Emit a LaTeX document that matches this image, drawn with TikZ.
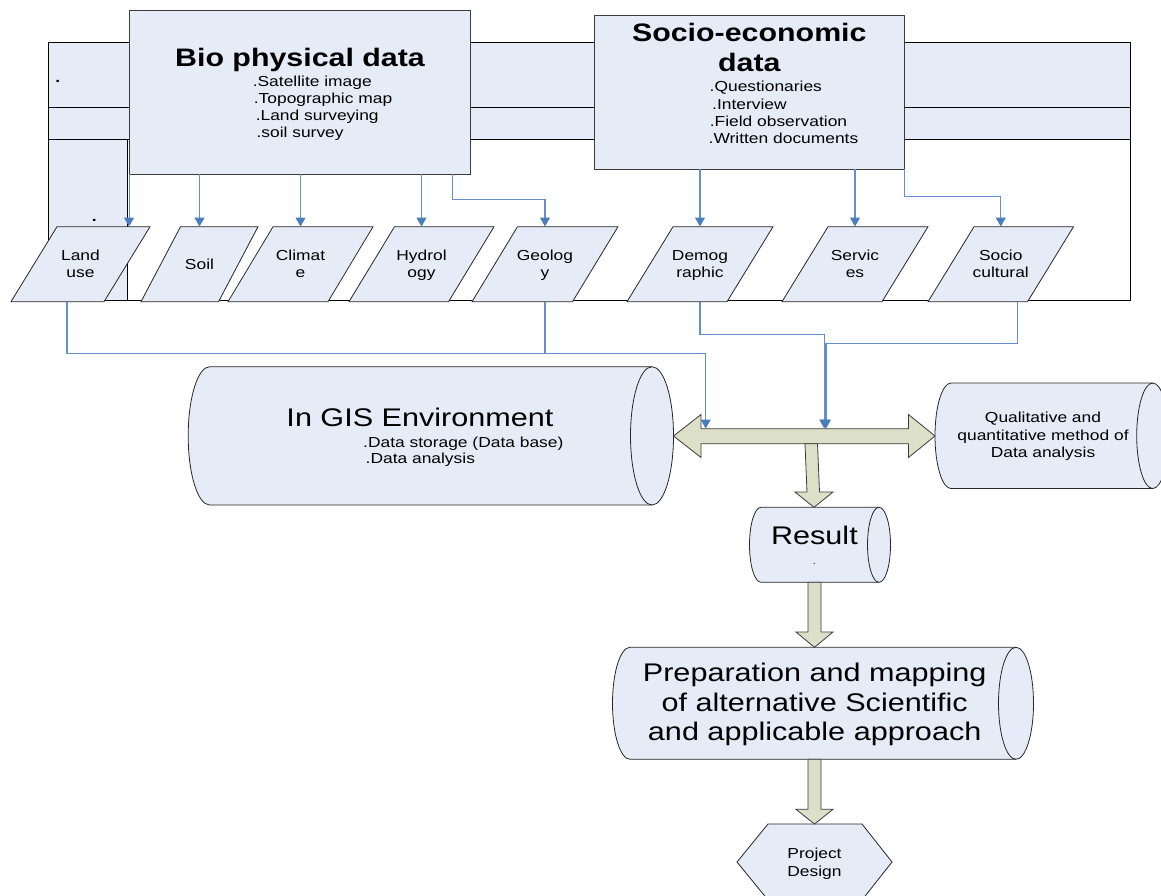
\documentclass[tikz,border=0pt]{standalone}
\usepackage{fontspec}
\setmainfont[FakeStretch=1.2]{Liberation Sans}
\usetikzlibrary{arrows.meta,calc}
\definecolor{boxfill}{RGB}{230,236,247}
\definecolor{edgegray}{RGB}{60,60,60}
\definecolor{lineblue}{RGB}{100,142,205}
\definecolor{headblue}{RGB}{74,126,187}
\definecolor{khaki}{RGB}{221,224,200}
\newcommand\pstrut{\rule[-3pt]{0pt}{15.6pt}}
\tikzset{
  frameline/.style={draw=black, line width=0.9pt},
  databox/.style={draw=edgegray, fill=boxfill, line width=0.9pt, inner sep=0pt},
  shapeline/.style={draw=black!85, fill=boxfill, line width=0.8pt},
  blockarrow/.style={draw=edgegray, fill=khaki, line width=0.8pt, line join=miter},
  conn/.style={draw=lineblue, line width=1.1pt},
  connarrow/.style={conn, -{Triangle[width=10pt,length=9pt,color=headblue]}},
  titletxt/.style={font=\fontsize{25.3}{30}\selectfont\bfseries},
  bigtxt/.style={font=\fontsize{25.5}{30}\selectfont},
  smalltxt/.style={font=\fontsize{14.5}{17.6}\selectfont},
  dottxt/.style={font=\fontsize{14.5}{17.6}\selectfont\bfseries},
  txt/.style={inner sep=0pt, anchor=base},
  txtl/.style={inner sep=0pt, anchor=base west},
  plabel/.style={smalltxt, inner sep=0pt, align=center, minimum height=75pt},
}
\newcommand\para[5]{%
  \filldraw[shapeline] (#2,301.7) -- ({#2+#4},301.7) -- ({#2+#3+#4},226.7) -- ({#2+#3},226.7) -- cycle;
  \node[plabel] (#1) at ({#2+#3/2+#4/2},264.2) {#5};
}
\newcommand\cyl[5]{%
  \filldraw[shapeline] (#1,#2) -- (#3,#2) arc[start angle=-90,end angle=90,x radius=#5,y radius={(#4-#2)/2}] -- (#1,#4) arc[start angle=90,end angle=270,x radius=#5,y radius={(#4-#2)/2}] -- cycle;
  \draw[shapeline, fill=none] (#3,#2) arc[start angle=-90,end angle=-270,x radius=#5,y radius={(#4-#2)/2}];
}
\begin{document}
\begin{tikzpicture}[x=1pt,y=-1pt]
\clip (0,0) rectangle (1161,895);
\fill[white] (0,0) rectangle (1161,895);
% frame
\fill[boxfill] (48.5,42.5) rectangle (1130.5,139);
\fill[boxfill] (48.5,139) rectangle (127.7,300);
\draw[frameline] (48.5,42.5) rectangle (1130.5,300);
\draw[frameline] (48.5,107) -- (1130.5,107);
\draw[frameline] (48.5,139) -- (1130.5,139);
\draw[frameline] (127.7,139) -- (127.7,300);
\node[dottxt,txt] (dotA) at (57.7,82) {.};
\node[dottxt,txt] (dotB) at (94.3,221.3) {.};
% data boxes
\node[databox, minimum width=341.2pt, minimum height=163.3pt] (bio) at (300.1,92.35) {};
\node[databox, minimum width=309.5pt, minimum height=153.7pt] (soc) at (749.3,92.15) {};
\node[titletxt,txt] (biot) at (300,66) {Bio physical data};
\node[smalltxt,txtl] (bi1) at (252.6,86) {.Satellite image};
\node[smalltxt,txtl] (bi2) at (253.7,103.3) {.Topographic map};
\node[smalltxt,txtl] (bi3) at (255.6,120.3) {.Land surveying};
\node[smalltxt,txtl] (bi4) at (256.4,137.7) {.soil survey};
\node[titletxt,txt] (soct1) at (749.3,41.7) {Socio-economic};
\node[titletxt,txt] (soct2) at (749.3,71) {data};
\node[smalltxt,txtl] (si1) at (709.5,91.7) {.Questionaries};
\node[smalltxt,txtl] (si2) at (712,109.3) {.Interview};
\node[smalltxt,txtl] (si3) at (709.6,126.7) {.Field observation};
\node[smalltxt,txtl] (si4) at (708.5,143.3) {.Written documents};
% parallelograms
\para{land}{11}{46}{93}{Land\pstrut\\use\pstrut}
\para{soil}{141}{39.5}{77.5}{Soil\pstrut}
\para{clim}{228}{45}{100}{Climat\pstrut\\e\pstrut}
\para{hydr}{349}{45.5}{99.5}{Hydrol\pstrut\\ogy\pstrut}
\para{geol}{472}{45.5}{100.5}{Geolog\pstrut\\y\pstrut}
\para{demo}{627}{46}{100}{Demog\pstrut\\raphic\pstrut}
\para{serv}{782}{46}{100}{Servic\pstrut\\es\pstrut}
\para{socu}{928}{46}{99.5}{Socio\pstrut\\cultural\pstrut}
% top connectors
\draw[connarrow] (bio.south west) -- (bio.south west |- land.north);
\draw[connarrow] (bio.south -| soil.north) -- (soil.north);
\draw[connarrow] (bio.south -| clim.north) -- (clim.north);
\draw[connarrow] (bio.south -| hydr.north) -- (hydr.north);
\draw[connarrow] ($(bio.south east)+(-19,0)$) |- ($(geol.north)+(0,-26.7)$) -- (geol.north);
\draw[connarrow] (soc.south -| demo.north) -- (demo.north);
\draw[connarrow] (soc.south -| serv.north) -- (serv.north);
\draw[connarrow] (soc.south east) |- ($(socu.north)+(0,-29.7)$) -- (socu.north);
% cylinders
\cyl{209.7}{366.7}{652}{505}{21.5}
\cyl{951}{383}{1152.7}{488.5}{16}
\cyl{761}{507.3}{879}{582.3}{11.5}
\cyl{630}{647.3}{1016}{759.3}{17.5}
\node[bigtxt,txt] (gis) at (420,426.7) {In GIS Environment};
\node[smalltxt,txtl] (gis1) at (363,447) {.Data storage (Data base)};
\node[smalltxt,txtl] (gis2) at (365.5,463.7) {.Data analysis};
\node[smalltxt,txt] (qual1) at (1043,422.7) {Qualitative and};
\node[smalltxt,txt] (qual2) at (1043,440.7) {quantitative method of};
\node[smalltxt,txt] (qual3) at (1043,457.7) {Data analysis};
\node[bigtxt,txt] (result) at (814.4,544) {Result};
\node[txt,font=\fontsize{9}{10}\selectfont] (resdot) at (814.4,564) {.};
\node[bigtxt,txt] (prep1) at (814.7,681.7) {Preparation and mapping};
\node[bigtxt,txt] (prep2) at (814.7,711) {of alternative Scientific};
\node[bigtxt,txt] (prep3) at (814.7,740.7) {and applicable approach};
% hexagon
\filldraw[shapeline] (768,824) -- (862,824) -- (892,862) -- (862,900) -- (768,900) -- (737,862) -- cycle;
\node[smalltxt,txt] (proj1) at (814.5,858.5) {Project};
\node[smalltxt,txt] (proj2) at (814.5,876) {Design};
% block arrows
\coordinate (gisE) at (673.5,436);
\coordinate (qualW) at (935,436);
\filldraw[blockarrow] (gisE) -- (701,414.5) -- (701,428.8) -- (908.5,428.8) -- (908.5,414.5) -- (qualW) -- (908.5,457.5) -- (908.5,443.8) -- (701,443.8) -- (701,457.5) -- cycle;
\filldraw[blockarrow] (805,443.8) -- (807,492) -- (795,492) -- (814,507.3) -- (833,492) -- (819.5,492) -- (817.5,443.8) -- cycle;
\filldraw[blockarrow] (808,582.3) -- (808,632) -- (796,632) -- (814.5,647.3) -- (833,632) -- (821,632) -- (821,582.3) -- cycle;
\filldraw[blockarrow] (808,759.3) -- (808,809.3) -- (796,809.3) -- (814.5,824) -- (833,809.3) -- (821,809.3) -- (821,759.3) -- cycle;
% lower connectors
\coordinate (hubL) at (705.7,428.5);
\coordinate (hubR) at (824.3,428.5);
\draw[connarrow] ($(land.south)+(-13.5,0)$) -- ++(0,51.3) -| (hubL);
\draw[conn] (geol.south) -- ++(0,51.3);
\draw[connarrow] (demo.south) -- ++(0,32.3) -| (hubR);
\draw[connarrow] ($(socu.south)+(16.3,0)$) -- ++(0,41.3) -| ($(hubR)+(1.7,0)$);
\end{tikzpicture}
\end{document}
